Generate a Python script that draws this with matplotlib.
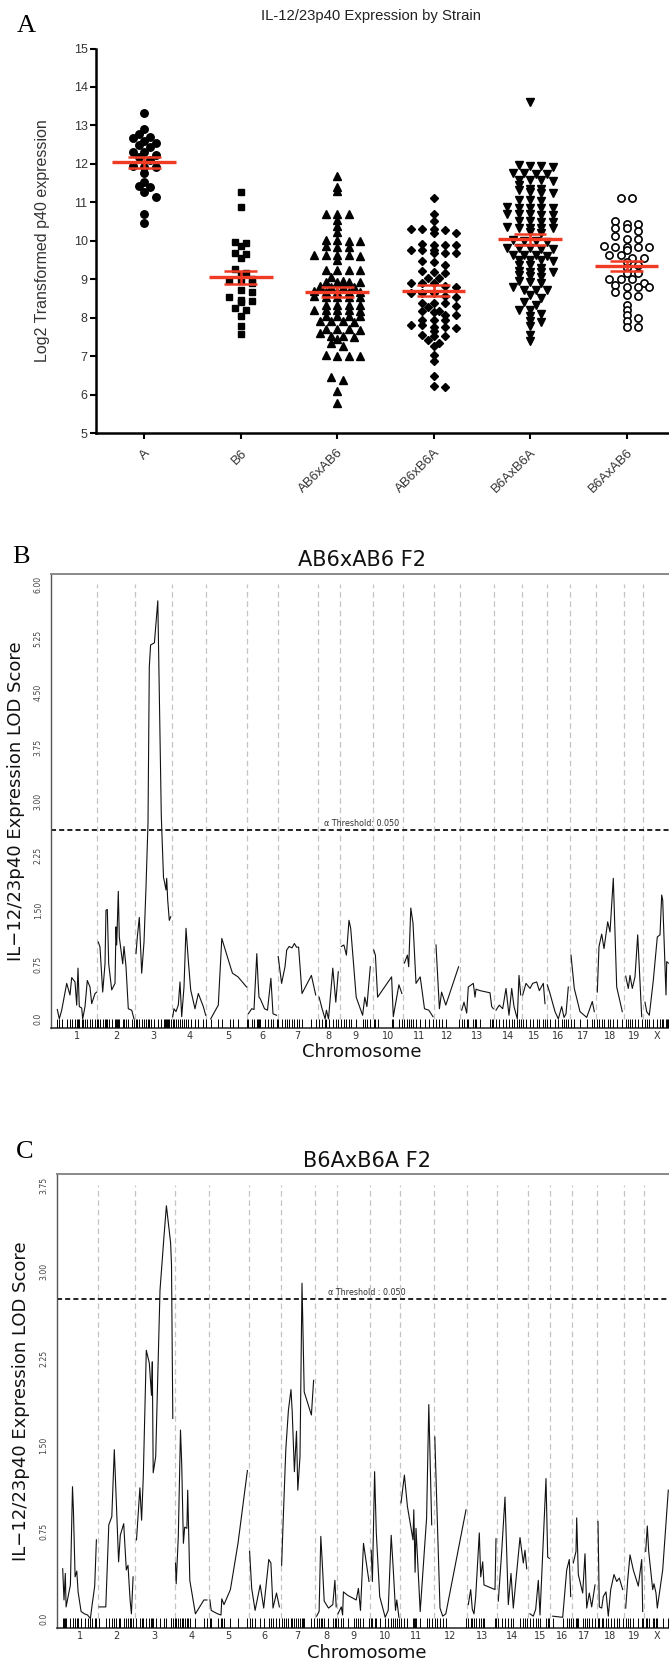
import numpy as np
import matplotlib
matplotlib.use("Agg")
import matplotlib.pyplot as plt

# ---------------- Panel A data (log2 p40 expression per strain) ----------------
strains = ["A", "B6", "AB6xAB6", "AB6xB6A", "B6AxB6A", "B6AxAB6"]

expr_A = [13.31, 12.90, 12.78, 12.69, 12.66, 12.59, 12.55, 12.50, 12.45, 12.32, 12.31,
          12.22, 12.19, 12.10, 11.95, 11.93, 11.93, 11.77, 11.54, 11.42, 11.39, 11.26,
          11.15, 10.69, 10.47]
expr_B6 = [11.28, 10.87, 9.98, 9.93, 9.86, 9.69, 9.66, 9.54, 9.26, 9.15, 9.10, 9.00,
           8.97, 8.95, 8.90, 8.72, 8.68, 8.53, 8.47, 8.43, 8.41, 8.25, 8.20, 8.04,
           7.78, 7.57]
expr_AB6xAB6 = [11.69, 11.40, 11.29, 10.69, 10.69, 10.69, 10.55, 10.38, 10.22,
                10.02, 10.01, 10.00, 9.99, 9.86, 9.85, 9.84, 9.64, 9.63, 9.62, 9.62,
                9.61, 9.50, 9.25, 9.24, 9.24, 9.23, 9.05, 8.95, 8.94, 8.94, 8.93, 8.92,
                8.82, 8.81, 8.81, 8.80, 8.69, 8.68, 8.68, 8.67, 8.66, 8.56, 8.55, 8.55,
                8.54, 8.53, 8.34, 8.33, 8.33, 8.32, 8.21, 8.20, 8.20, 8.19, 8.18, 8.05,
                8.04, 8.04, 8.03, 7.91, 7.90, 7.90, 7.89, 7.71, 7.70, 7.70, 7.69, 7.60,
                7.52, 7.51, 7.50, 7.45, 7.34, 7.25, 7.02, 7.01, 7.00, 6.99, 6.45, 6.38,
                6.10, 5.78]
expr_AB6xB6A = [11.10, 10.69, 10.51, 10.31, 10.30, 10.30, 10.29, 10.21, 10.19,
                9.91, 9.90, 9.90, 9.89, 9.77, 9.76, 9.75, 9.69, 9.68, 9.67, 9.47, 9.45,
                9.37, 9.21, 9.20, 9.15, 9.03, 9.02, 8.91, 8.90, 8.89, 8.82, 8.80, 8.65,
                8.64, 8.63, 8.56, 8.55, 8.39, 8.38, 8.37, 8.30, 8.28, 8.17, 8.16, 8.15,
                8.08, 8.06, 7.95, 7.94, 7.93, 7.82, 7.80, 7.76, 7.75, 7.74, 7.66, 7.54,
                7.53, 7.52, 7.42, 7.34, 7.27, 7.03, 6.86, 6.47, 6.21, 6.20]
expr_B6AxB6A = [13.62, 11.96, 11.95, 11.94, 11.93, 11.76, 11.75, 11.74, 11.73, 11.59,
                11.58, 11.57, 11.56, 11.45, 11.35, 11.34, 11.33, 11.26, 11.25, 11.24,
                11.06, 11.05, 11.04, 10.87, 10.86, 10.86, 10.85, 10.84, 10.70, 10.69,
                10.69, 10.68, 10.67, 10.52, 10.51, 10.50, 10.49, 10.35, 10.34, 10.34,
                10.33, 10.32, 10.22, 10.20, 10.01, 10.00, 9.99, 9.98, 9.81, 9.80, 9.80,
                9.79, 9.78, 9.64, 9.63, 9.62, 9.61, 9.51, 9.50, 9.49, 9.48, 9.38, 9.36,
                9.30, 9.21, 9.20, 9.19, 9.18, 9.10, 9.08, 9.06, 8.95, 8.93, 8.90, 8.80,
                8.73, 8.72, 8.71, 8.60, 8.50, 8.40, 8.33, 8.20, 8.19, 8.10, 8.04, 7.90,
                7.89, 7.78, 7.55, 7.40]
expr_B6AxAB6 = [11.10, 11.10, 10.52, 10.43, 10.43, 10.34, 10.34, 10.25, 10.13, 10.05,
                10.05, 9.86, 9.85, 9.85, 9.84, 9.84, 9.76, 9.63, 9.63, 9.55, 9.55, 9.46,
                9.37, 9.30, 9.15, 9.15, 9.00, 9.00, 9.00, 8.90, 8.85, 8.81, 8.81, 8.81,
                8.66, 8.60, 8.57, 8.33, 8.20, 8.07, 7.98, 7.90, 7.75, 7.75]

# ---------------- Panel B data (AB6xAB6 F2 genome scan) ----------------
chrom_names = ["1", "2", "3", "4", "5", "6", "7", "8", "9", "10", "11", "12", "13",
               "14", "15", "16", "17", "18", "19", "X"]
breaks_B = [97.3, 134.8, 171.5, 206.0, 247.4, 277.7, 317.8, 340.0, 373.3, 403.2,
            434.3, 460.0, 493.5, 521.7, 546.8, 570.2, 595.6, 623.5, 643.3]
pos_B = [57.3, 59.3, 61.7, 66.7, 70.0, 71.7, 75.0, 76.7, 78.0, 79.3, 81.7, 82.7, 85.0,
         87.3, 90.0, 91.7, 95.0, 96.7,
         98.3, 100.0, 102.7, 105.0, 106.0, 107.3, 108.7, 111.7, 115.0, 116.0, 116.7,
         118.3, 119.3, 122.7, 124.0, 126.0, 128.3, 131.7, 134.0,
         136.0, 137.3, 139.3, 141.7, 144.0, 146.0, 148.0, 149.3, 150.6, 154.4, 157.8,
         161.3, 163.5, 164.5, 166.0, 166.7, 167.7, 169.3, 170.7,
         172.7, 174.0, 176.0, 178.3, 180.0, 181.7, 184.0, 186.0, 188.3, 190.7, 195.0,
         198.3, 203.3, 205.7,
         210.7, 218.3, 221.8, 230.4, 232.5, 238.0, 246.6,
         248.3, 251.7, 254.0, 256.8, 258.1, 259.0, 260.2, 264.5, 267.5, 270.9, 273.0, 276.5,
         278.2, 281.6, 285.0, 286.7, 289.2, 292.0, 294.4, 296.5, 298.6, 302.0, 311.4, 315.7,
         319.1, 322.1, 325.1, 326.4, 328.5, 332.8, 335.8, 338.3,
         341.3, 343.9, 346.4, 349.0, 350.7, 356.2, 362.6, 364.8, 366.9, 370.3,
         373.7, 375.4, 377.6, 391.6, 393.3, 398.9, 401.9,
         404.4, 407.4, 408.7, 410.8, 413.0, 416.0, 420.2, 424.5, 428.8, 433.0,
         436.0, 439.4, 441.6, 445.8, 458.6,
         461.7, 464.0, 466.7, 468.3, 473.3, 475.0, 476.0, 480.0, 490.0, 491.7, 493.3,
         496.0, 499.3, 502.7, 506.0, 509.0, 511.7, 514.0, 517.3, 519.0, 520.7,
         522.7, 526.0, 530.0, 532.7, 536.7, 539.3, 543.3, 545.0,
         547.3, 550.0, 555.0, 558.3, 561.7, 564.0, 566.0, 568.3,
         571.0, 574.3, 580.0, 586.7, 592.3, 594.3,
         597.3, 599.0, 601.7, 604.0, 607.7, 610.0, 613.3, 616.7, 622.3,
         625.7, 628.3, 630.0, 632.3, 635.0, 637.7, 641.7,
         645.0, 646.7, 649.3, 653.3, 657.3, 660.0, 661.7, 662.7, 666.0, 666.7, 668.3]
lod_B = [0.13, 0.00, 0.12, 0.49, 0.33, 0.57, 0.51, 0.19, 0.70, 0.17, 0.15, 0.00, 0.17,
         0.53, 0.44, 0.21, 0.35, 0.37,
         1.06, 0.99, 0.37, 0.76, 1.50, 1.51, 0.76, 0.40, 0.49, 1.27, 1.02, 1.76, 1.13,
         0.76, 1.00, 0.72, 0.14, 0.12, 0.00,
         0.90, 1.13, 1.40, 0.63, 1.06, 1.82, 2.70, 4.86, 5.16, 5.19, 5.77, 2.80, 1.95,
         1.89, 1.78, 1.94, 1.64, 1.36, 1.41,
         0.03, 0.14, 0.10, 0.19, 0.51, 0.03, 0.44, 1.25, 0.81, 0.40, 0.14, 0.35, 0.17, 0.05,
         0.00, 0.19, 1.11, 0.72, 0.63, 0.58, 0.44,
         0.07, 0.14, 0.13, 0.90, 0.51, 0.30, 0.28, 0.14, 0.12, 0.56, 0.07, 0.05,
         0.86, 0.49, 0.72, 0.95, 1.00, 0.98, 1.04, 0.99, 0.99, 0.35, 0.60, 0.33,
         0.30, 0.14, 0.00, 0.12, 0.00, 0.70, 0.23, 0.65,
         1.00, 1.02, 0.88, 1.36, 1.25, 0.30, 0.05, 0.30, 0.17, 0.72,
         0.95, 0.88, 0.30, 0.58, 0.03, 0.47, 0.35,
         0.77, 0.88, 0.72, 1.53, 1.32, 0.49, 0.58, 0.14, 0.12, 0.03,
         1.02, 0.14, 0.37, 0.19, 0.72,
         0.12, 0.23, 0.08, 0.44, 0.49, 0.30, 0.41, 0.39, 0.36, 0.17, 0.14,
         0.12, 0.19, 0.14, 0.42, 0.05, 0.42, 0.17, 0.00, 0.60, 0.33,
         0.33, 0.49, 0.42, 0.49, 0.51, 0.39, 0.49, 0.21,
         0.47, 0.35, 0.10, 0.00, 0.17, 0.02, 0.07, 0.44,
         0.88, 0.42, 0.10, 0.02, 0.24, 0.10,
         0.37, 1.00, 1.17, 0.97, 1.34, 1.20, 1.94, 0.44, 0.10,
         0.59, 0.42, 0.60, 0.42, 0.58, 1.16, 0.03,
         0.23, 0.10, 0.05, 0.53, 1.13, 1.16, 1.71, 1.64, 0.33, 0.79, 0.77]
threshold_B = 2.61

# ---------------- Panel C data (B6AxB6A F2 genome scan) ----------------
breaks_C = [98.1, 134.8, 174.9, 209.0, 248.7, 280.7, 314.8, 337.0, 370.3, 399.7,
            433.9, 467.3, 497.5, 528.5, 550.5, 571.9, 596.6, 624.0, 644.5]
pos_C = [62.7, 64.0, 65.3, 66.1, 70.4, 72.5, 73.4, 75.1, 76.8, 78.1, 81.1, 84.5, 87.5,
         90.4, 91.7, 94.7, 96.4,
         99.0, 105.8, 108.8, 111.8, 114.3, 116.0, 118.6, 120.3, 123.7, 126.3, 128.0,
         130.1, 131.4, 133.1,
         136.5, 139.9, 141.6, 143.3, 146.3, 149.3, 151.5, 152.3, 153.2, 155.7, 160.0,
         164.2, 166.4, 170.6, 171.5, 172.8,
         175.5, 176.2, 178.3, 180.5, 181.7, 183.4, 184.7, 186.9, 187.7, 189.8, 195.4,
         203.9, 206.9,
         209.9, 211.2, 217.6, 221.0, 221.8, 224.0, 230.4, 238.0, 247.4,
         249.6, 251.7, 255.1, 260.2, 263.7, 268.8, 270.9, 273.0, 276.5, 279.4,
         281.6, 283.7, 285.8, 288.4, 291.0, 292.2, 294.4, 296.5, 297.8, 300.0, 302.0,
         302.9, 304.2, 311.4, 313.6,
         316.6, 319.1, 320.8, 322.1, 324.2, 328.5, 332.8, 334.9, 336.2,
         337.9, 341.3, 342.6, 343.4, 347.7, 354.1, 356.2, 358.4, 360.5, 363.5, 369.0,
         371.2, 372.4, 374.6, 376.3, 379.7, 385.2, 388.2, 391.2, 393.3, 395.5, 396.8, 398.9,
         401.0, 404.4, 407.4, 413.0, 413.8, 415.1, 416.0, 420.2, 426.6, 428.8, 431.7,
         434.8, 437.3, 440.0, 442.7, 445.8, 466.0,
         468.3, 470.7, 472.3, 474.0, 475.7, 479.3, 480.7, 482.7, 484.0, 495.0, 496.0,
         498.3, 501.7, 505.0, 508.3, 511.0, 513.3, 520.0, 523.3, 525.0, 526.7,
         530.0, 533.3, 535.7, 538.3, 540.0, 546.0, 547.7, 549.3,
         552.7, 562.7, 566.7, 569.3, 570.7,
         573.3, 576.0, 576.7, 578.3, 582.7, 585.0, 586.7, 589.3, 591.7, 595.0,
         598.0, 599.3, 601.7, 603.3, 606.0, 608.3, 610.7, 614.0, 616.7, 619.3, 622.7,
         625.7, 627.7, 630.0, 633.3, 638.3, 641.7, 642.7,
         645.7, 647.3, 648.7, 652.7, 654.0, 656.0, 657.3, 662.7, 668.3]
lod_C = [0.43, 0.16, 0.39, 0.10, 0.29, 1.14, 0.94, 0.36, 0.41, 0.23, 0.06, 0.04, 0.03,
         0.00, 0.09, 0.28, 0.68,
         0.10, 0.10, 0.81, 0.88, 1.46, 1.08, 0.49, 0.72, 0.82, 0.42, 0.46, 0.16, 0.04, 0.36,
         0.68, 1.13, 0.85, 1.23, 2.32, 2.21, 1.93, 2.22, 1.26, 1.40, 2.84, 3.33, 3.57,
         3.25, 3.06, 1.73,
         0.48, 0.30, 0.71, 1.63, 1.34, 0.65, 0.79, 0.78, 1.11, 0.33, 0.04, 0.16, 0.16,
         0.16, 0.07, 0.04, 0.03, 0.17, 0.12, 0.25, 0.65, 1.28,
         0.58, 0.26, 0.07, 0.29, 0.09, 0.51, 0.48, 0.09, 0.22, 0.10,
         0.46, 0.97, 1.46, 1.80, 1.98, 1.79, 1.27, 1.62, 1.11, 1.40, 2.90, 2.52, 1.96,
         1.76, 2.06,
         0.02, 0.06, 0.71, 0.51, 0.15, 0.09, 0.12, 0.33, 0.10,
         0.04, 0.10, 0.03, 0.23, 0.20, 0.17, 0.16, 0.26, 0.07, 0.65, 0.32,
         0.59, 0.32, 1.27, 0.74, 0.19, 0.01, 0.07, 0.72, 0.42, 0.07, 0.16, 0.01,
         1.00, 1.24, 0.97, 0.68, 0.94, 0.40, 0.78, 0.06, 0.87, 1.85, 0.81,
         1.57, 0.85, 0.09, 0.02, 0.04, 0.94,
         0.12, 0.25, 0.08, 0.04, 0.19, 0.74, 0.36, 0.49, 0.29, 0.25, 0.69,
         0.15, 0.58, 1.05, 0.12, 0.39, 0.09, 0.70, 0.48, 0.59, 0.43,
         0.04, 0.02, 0.08, 0.33, 0.03, 1.21, 0.53, 0.52,
         0.02, 0.01, 0.42, 0.51, 0.19,
         0.48, 0.58, 0.87, 0.38, 0.22, 0.56, 0.09, 0.22, 0.10, 0.29,
         0.84, 0.10, 0.09, 0.19, 0.23, 0.02, 0.25, 0.38, 0.32, 0.35, 0.25,
         0.09, 0.33, 0.55, 0.42, 0.28, 0.51, 0.06,
         0.58, 0.80, 0.58, 0.25, 0.30, 0.22, 0.09, 0.42, 1.11]
threshold_C = 2.76

# ---------------- figure ----------------
W, H = 669, 1664
fig = plt.figure(figsize=(W / 100, H / 100), dpi=100)


def box(l, t, r, b):
    return [l / W, 1 - b / H, (r - l) / W, (b - t) / H]


def fx(x):
    return x / W


def fy(y):
    return 1 - y / H


SANS_A = ["Liberation Sans", "DejaVu Sans"]
SERIF = ["Liberation Serif", "DejaVu Serif"]

# ---------------- Panel A ----------------
axA = fig.add_axes(box(96, 48.5, 669, 433))
axA.set_xlim(-0.5, 5.44)
axA.set_ylim(5, 15)


def swarm_offsets(vals, row_h=0.11, dx=0.118, max_row=5):
    vals = np.asarray(vals)
    order = np.argsort(vals)[::-1]
    offs = np.zeros(len(vals))
    rows, cur, start = [], [], None
    for idx in order:
        if start is None or start - vals[idx] > row_h or len(cur) >= max_row:
            if cur:
                rows.append(cur)
            cur, start = [idx], vals[idx]
        else:
            cur.append(idx)
    rows.append(cur)
    for j, r in enumerate(rows):
        n = len(r)
        shift = 0.5 * dx * (j % 2) if n < max_row else 0.0
        for k, idx in enumerate(r):
            offs[idx] = (k - (n - 1) / 2) * dx + (shift if n % 2 == 0 else 0.0)
    return offs


groups = [expr_A, expr_B6, expr_AB6xAB6, expr_AB6xB6A, expr_B6AxB6A, expr_B6AxAB6]
styles = [dict(marker="o", ms=5.4, mfc="black"),
          dict(marker="s", ms=5.0, mfc="black"),
          dict(marker="^", ms=5.4, mfc="black"),
          dict(marker="D", ms=4.0, mfc="black"),
          dict(marker="v", ms=5.4, mfc="black"),
          dict(marker="o", ms=5.2, mfc="white", mew=1.2)]
red = "#f03a24"
for i, (vals, st) in enumerate(zip(groups, styles)):
    v = np.asarray(vals)
    xs = i + swarm_offsets(v)
    axA.plot(xs, v, linestyle="none", mec="black", zorder=3, clip_on=False, **st)
    m = v.mean()
    se = v.std(ddof=1) / np.sqrt(len(v))
    axA.hlines(m, i - 0.33, i + 0.33, color=red, lw=2.4, zorder=5)
    axA.hlines([m - se, m + se], i - 0.17, i + 0.17, color=red, lw=1.8, zorder=5)
    axA.vlines(i, m - se, m + se, color=red, lw=1.8, zorder=5)

axA.set_xticks(range(len(strains)))
axA.set_xticklabels(strains, rotation=45, ha="right", va="top",
                    rotation_mode="anchor", family=SANS_A, fontsize=9.5, color="#333333")
axA.set_yticks(range(5, 16))
axA.set_yticklabels([str(v) for v in range(5, 16)], family=SANS_A, fontsize=9,
                    color="#333333")
axA.tick_params(axis="both", direction="out", length=4, width=1.5, pad=2, color="black")
axA.tick_params(axis="x", pad=6)
for s in ["top", "right"]:
    axA.spines[s].set_visible(False)
for s in ["left", "bottom"]:
    axA.spines[s].set_linewidth(1.8)

fig.text(fx(371), fy(16), "IL-12/23p40 Expression by Strain", ha="center", va="center",
         family=SANS_A, fontsize=10.7, color="#222222")
fig.text(fx(42.5), fy(241), "Log2 Transformed p40 expression", ha="center", va="center",
         rotation=90, family=SANS_A, fontsize=11.5, color="#333333")
fig.text(fx(26), fy(26), "A", ha="center", va="center", family=SERIF, fontsize=19)


# ---------------- Panels B and C ----------------
def lod_panel(ax, pos, lod, breaks, threshold, ylim, ticks, ticklabels, thr_x, thr_text):
    pos = np.asarray(pos)
    lod = np.asarray(lod)
    chrom = np.searchsorted(breaks, pos)
    ax.set_ylim(*ylim)
    ax.vlines(breaks, 0, ticks[-1], colors="#c4c4c4", linestyles=(0, (4.5, 3)), lw=0.9,
              zorder=1)
    ax.axhline(threshold, color="#222222", ls=(0, (2.6, 1.6)), lw=1.4, zorder=2)
    ax.text(thr_x, threshold + 0.02, thr_text, ha="center", va="bottom",
            fontsize=5.8, color="#333333", family="DejaVu Sans")
    mids = []
    for c in range(len(chrom_names)):
        sel = chrom == c
        ax.plot(pos[sel], lod[sel], color="#111111", lw=0.8, zorder=3)
        mids.append((pos[sel].min() + pos[sel].max()) / 2)
    ax.vlines(pos, ylim[0], 0, colors="black", lw=0.7, zorder=3)
    ax.set_xticks(mids)
    ax.set_xticklabels(chrom_names, fontsize=7, color="#333333", family="DejaVu Sans")
    ax.tick_params(axis="x", length=0, pad=2)
    ax.set_yticks(ticks)
    ax.set_yticklabels(ticklabels, rotation=90, va="center", fontsize=5.6,
                       color="#444444", family="DejaVu Sans")
    ax.tick_params(axis="y", length=0, pad=6)
    ax.spines["right"].set_visible(False)
    ax.spines["top"].set_color("#8a8a8a")
    ax.spines["top"].set_linewidth(1.4)
    ax.spines["left"].set_color("#555555")
    ax.spines["left"].set_linewidth(1.0)
    ax.spines["bottom"].set_color("#333333")
    ax.spines["bottom"].set_linewidth(1.2)


axB = fig.add_axes(box(51, 574, 669, 1028.3))
axB.set_xlim(51, 669)
ticksB = [0, 0.75, 1.5, 2.25, 3.0, 3.75, 4.5, 5.25, 6.0]
lod_panel(axB, pos_B, lod_B, breaks_B, threshold_B, (-0.13, 6.14), ticksB,
          ["0.0", "0.75", "1.50", "2.25", "3.00", "3.75", "4.50", "5.25", "6.00"], 362,
          "\u03b1 Threshold: 0.050")
fig.text(fx(362), fy(560), "AB6xAB6 F2", ha="center", va="center", fontsize=15,
         family="DejaVu Sans", color="#111111")
fig.text(fx(362), fy(1052), "Chromosome", ha="center", va="center", fontsize=13,
         family="DejaVu Sans", color="#111111")
fig.text(fx(16), fy(801), "IL\u221212/23p40 Expression LOD Score", ha="center",
         va="center", rotation=90, fontsize=13, family="DejaVu Sans", color="#111111")
fig.text(fx(21), fy(557), "B", ha="center", va="center", family=SERIF, fontsize=19)

axC = fig.add_axes(box(56.7, 1174, 669, 1628.3))
axC.set_xlim(56.7, 669)
ticksC = [0, 0.75, 1.5, 2.25, 3.0, 3.75]
lod_panel(axC, pos_C, lod_C, breaks_C, threshold_C, (-0.085, 3.845), ticksC,
          ["0.0", "0.75", "1.50", "2.25", "3.00", "3.75"], 367,
          "\u03b1 Threshold : 0.050")
fig.text(fx(367), fy(1161), "B6AxB6A F2", ha="center", va="center", fontsize=15,
         family="DejaVu Sans", color="#111111")
fig.text(fx(367), fy(1653), "Chromosome", ha="center", va="center", fontsize=13,
         family="DejaVu Sans", color="#111111")
fig.text(fx(21.5), fy(1401), "IL\u221212/23p40 Expression LOD Score", ha="center",
         va="center", rotation=90, fontsize=13, family="DejaVu Sans", color="#111111")
fig.text(fx(25), fy(1152), "C", ha="center", va="center", family=SERIF, fontsize=19)

fig.savefig("out.png", dpi=100)
